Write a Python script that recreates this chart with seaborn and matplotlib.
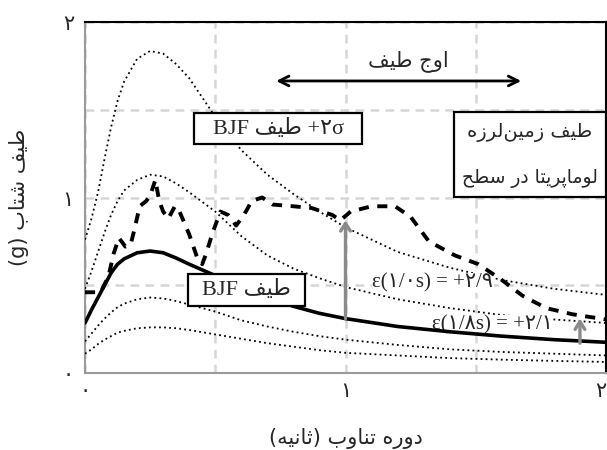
import matplotlib
matplotlib.use('Agg')
import matplotlib.pyplot as plt
import seaborn as sns
import numpy as np
import pandas as pd
from matplotlib.patches import Rectangle

# ---------------- data ----------------
periods = [0, 0.025, 0.05, 0.075, 0.1, 0.125, 0.15, 0.2, 0.25, 0.3, 0.35, 0.4,
           0.5, 0.6, 0.7, 0.8, 0.9, 1.0, 1.2, 1.4, 1.6, 1.8, 2.0]
bjf_median = [0.285, 0.36, 0.43, 0.50, 0.57, 0.62, 0.65, 0.685, 0.695, 0.685, 0.655, 0.62,
              0.555, 0.49, 0.43, 0.38, 0.34, 0.31, 0.265, 0.235, 0.21, 0.19, 0.175]
bjf_plus1 = [0.48, 0.58, 0.69, 0.80, 0.90, 0.98, 1.04, 1.10, 1.13, 1.12, 1.08, 1.03,
             0.92, 0.78, 0.67, 0.595, 0.54, 0.49, 0.42, 0.37, 0.33, 0.305, 0.285]
bjf_plus2 = [0.76, 0.88, 1.03, 1.22, 1.40, 1.55, 1.66, 1.79, 1.835, 1.82, 1.76, 1.68,
             1.46, 1.27, 1.13, 1.02, 0.92, 0.83, 0.69, 0.60, 0.53, 0.48, 0.445]
bjf_minus1 = [0.18, 0.225, 0.27, 0.31, 0.345, 0.375, 0.395, 0.42, 0.43, 0.425, 0.41, 0.39,
              0.35, 0.30, 0.265, 0.235, 0.21, 0.19, 0.16, 0.135, 0.12, 0.11, 0.10]
bjf_minus2 = [0.11, 0.135, 0.165, 0.19, 0.21, 0.23, 0.24, 0.255, 0.26, 0.26, 0.255, 0.245,
              0.22, 0.195, 0.17, 0.15, 0.13, 0.115, 0.10, 0.085, 0.076, 0.069, 0.063]

loma_periods = [0.00, 0.06, 0.09, 0.11, 0.13, 0.155, 0.175, 0.19, 0.21, 0.235, 0.25, 0.27,
                0.285, 0.30, 0.32, 0.345, 0.36, 0.40, 0.43, 0.45, 0.465, 0.49, 0.52, 0.55,
                0.58, 0.61, 0.64, 0.68, 0.72, 0.80, 0.87, 0.95, 0.98, 1.02, 1.10, 1.19,
                1.25, 1.32, 1.42, 1.51, 1.60, 1.68, 1.77, 1.87, 2.00]
loma_sa = [0.46, 0.46, 0.55, 0.68, 0.77, 0.72, 0.73, 0.82, 0.95, 0.98, 1.01, 1.10,
           0.98, 0.92, 0.88, 0.95, 0.93, 0.79, 0.66, 0.62, 0.68, 0.80, 0.92, 0.90,
           0.84, 0.90, 0.98, 1.00, 0.96, 0.95, 0.94, 0.90, 0.87, 0.92, 0.95, 0.95,
           0.89, 0.75, 0.67, 0.62, 0.53, 0.44, 0.37, 0.335, 0.305]

# epsilon arrows: (period, bottom, top)
eps_periods = [1.0, 1.9]
eps_bottom = [0.31, 0.17]
eps_top = [0.87, 0.31]

x_ticks = [0, 1, 2]
x_tick_labels = ['۰', '۱', '۲']
y_ticks = [0, 1, 2]
y_tick_labels = ['۰', '۱', '۲']
grid_minor = [0.5, 1.5]

# ---------------- simple Persian shaping (visual order) ----------------
FORMS = {
    'ا': ('\uFE8D', '\uFE8E', None, None),
    'ب': ('\uFE8F', '\uFE90', '\uFE91', '\uFE92'),
    'پ': ('\uFB56', '\uFB57', '\uFB58', '\uFB59'),
    'ت': ('\uFE95', '\uFE96', '\uFE97', '\uFE98'),
    'ث': ('\uFE99', '\uFE9A', '\uFE9B', '\uFE9C'),
    'ج': ('\uFE9D', '\uFE9E', '\uFE9F', '\uFEA0'),
    'ح': ('\uFEA1', '\uFEA2', '\uFEA3', '\uFEA4'),
    'د': ('\uFEA9', '\uFEAA', None, None),
    'ر': ('\uFEAD', '\uFEAE', None, None),
    'ز': ('\uFEAF', '\uFEB0', None, None),
    'س': ('\uFEB1', '\uFEB2', '\uFEB3', '\uFEB4'),
    'ش': ('\uFEB5', '\uFEB6', '\uFEB7', '\uFEB8'),
    'ط': ('\uFEC1', '\uFEC2', '\uFEC3', '\uFEC4'),
    'ف': ('\uFED1', '\uFED2', '\uFED3', '\uFED4'),
    'ل': ('\uFEDD', '\uFEDE', '\uFEDF', '\uFEE0'),
    'م': ('\uFEE1', '\uFEE2', '\uFEE3', '\uFEE4'),
    'ن': ('\uFEE5', '\uFEE6', '\uFEE7', '\uFEE8'),
    'ه': ('\uFEE9', '\uFEEA', '\uFEEB', '\uFEEC'),
    'و': ('\uFEED', '\uFEEE', None, None),
    'ی': ('\uFBFC', '\uFBFD', '\uFBFE', '\uFBFF'),
}


def shape(s):
    out = []
    n = len(s)
    for i, c in enumerate(s):
        if c not in FORMS:
            if c != '\u200c':
                out.append(c)
            continue
        f = FORMS[c]
        p = s[i - 1] if i > 0 else ''
        nx = s[i + 1] if i + 1 < n else ''
        pj = p in FORMS and FORMS[p][2] is not None
        nj = nx in FORMS and f[2] is not None
        if pj and nj:
            out.append(f[3])
        elif pj:
            out.append(f[1])
        elif nj:
            out.append(f[2])
        else:
            out.append(f[0])
    return ''.join(out)


def rtl(s):
    return shape(s)[::-1]


# ---------------- figure ----------------
sns.set_style('white')
plt.rcParams['font.family'] = ['DejaVu Sans']
fig = plt.figure(figsize=(6.07, 4.5), dpi=100)
ax = fig.add_axes([85 / 607, 1 - 373 / 450, 521 / 607, 351 / 450])

dot = (0, (1, 1.8))
for series in [bjf_plus2, bjf_plus1, bjf_minus1, bjf_minus2]:
    sns.lineplot(x=periods, y=series, ax=ax, color='black', linewidth=1.3,
                 linestyle=dot, zorder=3)
sns.lineplot(x=periods, y=bjf_median, ax=ax, color='black', linewidth=2.6, zorder=4)
sns.lineplot(x=loma_periods, y=loma_sa, ax=ax, color='black', linewidth=2.8,
             linestyle=(0, (2.6, 2.2)), zorder=5)

ax.set_xlim(0, 2)
ax.set_ylim(0, 2)
ax.set_xticks(x_ticks)
ax.set_xticklabels(x_tick_labels, fontsize=15)
ax.set_yticks(y_ticks)
ax.set_yticklabels(y_tick_labels, fontsize=15)
ax.get_xticklabels()[-1].set_ha('right')
ax.set_xticks(grid_minor, minor=True)
ax.set_yticks(grid_minor, minor=True)
ax.tick_params(axis='both', which='both', length=0)
ax.tick_params(axis='x', pad=6)
ax.tick_params(axis='y', pad=8)
ax.grid(True, which='both', color='#d6d6d6', linewidth=1.8, linestyle=(0, (3.5, 2.5)))
ax.set_axisbelow(True)

for side in ['left', 'bottom']:
    ax.spines[side].set_color('#9a9a9a')
    ax.spines[side].set_linewidth(1.5)
for side in ['top', 'right']:
    ax.spines[side].set_color('black')
    ax.spines[side].set_linewidth(1.5)

ax.set_xlabel('(' + rtl('ثانیه') + ') ' + rtl('دوره تناوب'), fontsize=15, labelpad=19)
ax.set_ylabel('(g) ' + rtl('طیف شتاب'), fontsize=15, labelpad=24)

# peak arrow
ax.annotate('', xy=(0.723, 1.664), xytext=(1.685, 1.664),
            arrowprops=dict(arrowstyle='<->,head_length=0.7,head_width=0.35',
                            color='black', lw=2), zorder=6)
ax.text(1.24, 1.775, rtl('اوج طیف'), ha='center', va='center', fontsize=15, zorder=6)

# epsilon arrows
for t, b, tp in zip(eps_periods, eps_bottom, eps_top):
    ax.annotate('', xy=(t, tp), xytext=(t, b),
                arrowprops=dict(arrowstyle='->,head_length=0.55,head_width=0.35',
                                color='#8a8a8a', lw=2.4, shrinkA=0, shrinkB=0), zorder=6)

serif = ['Liberation Serif', 'DejaVu Sans']
ax.text(1.335, 0.513, 'ε(۱/۰s) = +۲/۹', ha='center', va='center', fontsize=15,
        family=serif, zorder=4.5,
        bbox=dict(facecolor='white', edgecolor='none', pad=0.5))
ax.text(1.565, 0.275, 'ε(۱/۸s) = +۲/۱', ha='center', va='center', fontsize=15,
        family=serif, zorder=3.5,
        bbox=dict(facecolor='white', edgecolor='none', pad=0.2))

# boxes
boxes = [
    (0.419, 1.305, 1.065, 1.481, 'BJF ' + rtl('طیف') + ' +۲σ', [0.742], [1.393]),
    (0.396, 0.382, 0.846, 0.564, 'BJF ' + rtl('طیف'), [0.621], [0.473]),
]
for x0, y0, x1, y1, label, xs, ys in boxes:
    ax.add_patch(Rectangle((x0, y0), x1 - x0, y1 - y0, facecolor='white',
                           edgecolor='black', lw=1.6, zorder=7))
    ax.text(xs[0], ys[0], label, ha='center', va='center', fontsize=16,
            family=serif, zorder=8)

ax.add_patch(Rectangle((1.415, 1.003), 0.585, 0.484, facecolor='white',
                       edgecolor='black', lw=1.6, zorder=7, clip_on=False))
ax.text(1.708, 1.373, rtl('طیف زمین\u200cلرزه'), ha='center', va='center',
        fontsize=14, zorder=8)
ax.text(1.708, 1.111, rtl('لوماپریتا در سطح'), ha='center', va='center',
        fontsize=13.5, zorder=8)

fig.savefig('out.png', dpi=100)
